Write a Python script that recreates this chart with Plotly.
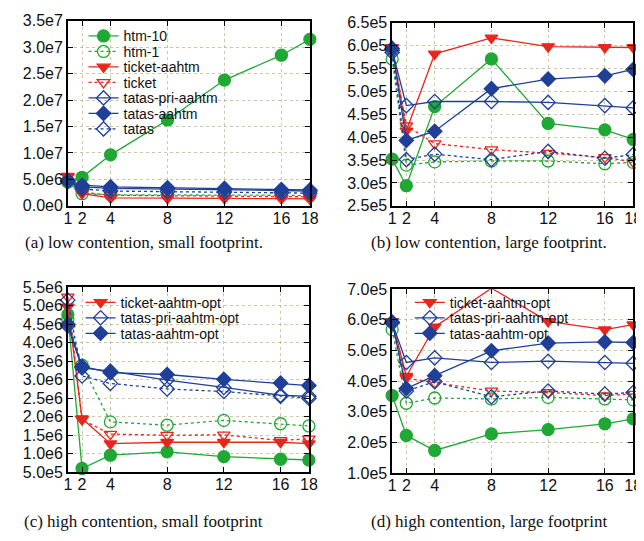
import plotly.graph_objects as go

threads = [1, 2, 4, 8, 12, 16, 18]
x_tick_vals = [1, 2, 4, 8, 12, 16, 18]
x_tick_text = ["1", "2", "4", "8", "12", "16", "18"]

# (a) low contention, small footprint
a_htm10 = [4.76e6, 5.4e6, 9.65e6, 16.25e6, 23.8e6, 28.5e6, 31.5e6]
a_htm1 = [4.5e6, 2.3e6, 2.1e6, 2.1e6, 2.1e6, 2.0e6, 1.9e6]
a_ticket_aahtm = [5.6e6, 2.3e6, 1.5e6, 1.4e6, 1.4e6, 1.35e6, 1.3e6]
a_ticket = [5.5e6, 2.6e6, 2.0e6, 1.9e6, 1.9e6, 1.8e6, 1.7e6]
a_tatas_pri_aahtm = [4.7e6, 3.6e6, 3.3e6, 3.2e6, 3.1e6, 2.9e6, 2.8e6]
a_tatas_aahtm = [4.8e6, 3.9e6, 3.6e6, 3.4e6, 3.3e6, 3.1e6, 3.0e6]
a_tatas = [4.6e6, 3.2e6, 2.8e6, 2.7e6, 2.6e6, 2.5e6, 2.4e6]
a_ytick_vals = [0, 5e6, 1e7, 1.5e7, 2e7, 2.5e7, 3e7, 3.5e7]
a_ytick_text = ["0.0e0", "5.0e6", "1.0e7", "1.5e7", "2.0e7", "2.5e7", "3.0e7", "3.5e7"]

# (b) low contention, large footprint
b_htm10 = [3.52e5, 2.94e5, 4.67e5, 5.71e5, 4.30e5, 4.16e5, 3.95e5]
b_htm1 = [5.71e5, 3.39e5, 3.46e5, 3.48e5, 3.48e5, 3.42e5, 3.45e5]
b_ticket_aahtm = [5.96e5, 4.14e5, 5.82e5, 6.17e5, 5.98e5, 5.96e5, 5.96e5]
b_ticket = [5.95e5, 4.25e5, 3.86e5, 3.73e5, 3.65e5, 3.56e5, 3.46e5]
b_tatas_pri_aahtm = [5.9e5, 4.69e5, 4.78e5, 4.78e5, 4.76e5, 4.69e5, 4.64e5]
b_tatas_aahtm = [5.94e5, 3.93e5, 4.13e5, 5.06e5, 5.27e5, 5.34e5, 5.48e5]
b_tatas = [5.85e5, 3.51e5, 3.63e5, 3.51e5, 3.69e5, 3.54e5, 3.62e5]
b_ytick_vals = [2.5e5, 3e5, 3.5e5, 4e5, 4.5e5, 5e5, 5.5e5, 6e5, 6.5e5]
b_ytick_text = ["2.5e5", "3.0e5", "3.5e5", "4.0e5", "4.5e5", "5.0e5", "5.5e5", "6.0e5", "6.5e5"]

# (c) high contention, small footprint
c_htm10 = [4.76e6, 0.6e6, 0.96e6, 1.05e6, 0.92e6, 0.85e6, 0.83e6]
c_htm1 = [4.63e6, 3.39e6, 1.86e6, 1.77e6, 1.90e6, 1.81e6, 1.75e6]
c_ticket_aahtm_opt = [4.97e6, 1.95e6, 1.27e6, 1.31e6, 1.31e6, 1.31e6, 1.27e6]
c_ticket = [5.24e6, 1.92e6, 1.53e6, 1.50e6, 1.51e6, 1.36e6, 1.40e6]
c_tatas_pri_aahtm_opt = [4.45e6, 3.32e6, 3.23e6, 2.99e6, 2.79e6, 2.58e6, 2.55e6]
c_tatas_aahtm_opt = [4.5e6, 3.36e6, 3.19e6, 3.14e6, 3.01e6, 2.91e6, 2.84e6]
c_tatas = [5.15e6, 3.1e6, 2.9e6, 2.75e6, 2.68e6, 2.55e6, 2.5e6]
c_ytick_vals = [5e5, 1e6, 1.5e6, 2e6, 2.5e6, 3e6, 3.5e6, 4e6, 4.5e6, 5e6, 5.5e6]
c_ytick_text = ["5.0e5", "1.0e6", "1.5e6", "2.0e6", "2.5e6", "3.0e6", "3.5e6", "4.0e6", "4.5e6", "5.0e6", "5.5e6"]

# (d) high contention, large footprint
d_htm10 = [3.53e5, 2.23e5, 1.74e5, 2.28e5, 2.42e5, 2.61e5, 2.77e5]
d_htm1 = [5.68e5, 3.28e5, 3.45e5, 3.42e5, 3.47e5, 3.42e5, 3.39e5]
d_ticket_aahtm_opt = [5.95e5, 4.16e5, 5.77e5, 7.03e5, 5.95e5, 5.68e5, 5.84e5]
d_ticket = [5.95e5, 4.1e5, 3.95e5, 3.68e5, 3.63e5, 3.53e5, 3.58e5]
d_tatas_pri_aahtm_opt = [5.9e5, 4.61e5, 4.76e5, 4.61e5, 4.65e5, 4.61e5, 4.58e5]
d_tatas_aahtm_opt = [5.93e5, 3.76e5, 4.18e5, 4.99e5, 5.24e5, 5.28e5, 5.26e5]
d_tatas = [5.9e5, 3.68e5, 3.98e5, 3.49e5, 3.68e5, 3.58e5, 3.63e5]
d_ytick_vals = [1e5, 2e5, 3e5, 4e5, 5e5, 6e5, 7e5]
d_ytick_text = ["1.0e5", "2.0e5", "3.0e5", "4.0e5", "5.0e5", "6.0e5", "7.0e5"]

captions = [
    "(a) low contention, small footprint.",
    "(b) low contention, large footprint.",
    "(c) high contention, small footprint",
    "(d) high contention, large footprint",
]

GREEN = "#1fa834"
RED = "#e8261c"
BLUE = "#1f3f98"
W, H = 644, 541
SANS = "Liberation Sans, Arial, sans-serif"
SERIF = "Liberation Serif, Times New Roman, serif"

STYLES = {
    "htm-10": dict(color=GREEN, dash="solid", symbol="circle", size=12),
    "htm-1": dict(color=GREEN, dash="dot", symbol="circle-open", size=12),
    "ticket-aahtm": dict(color=RED, dash="solid", symbol="triangle-down", size=11),
    "ticket": dict(color=RED, dash="dot", symbol="triangle-down-open", size=11),
    "tatas-pri-aahtm": dict(color=BLUE, dash="solid", symbol="diamond-open", size=11),
    "tatas-aahtm": dict(color=BLUE, dash="solid", symbol="diamond", size=11),
    "tatas": dict(color=BLUE, dash="dot", symbol="diamond-open", size=11),
}

fig = go.Figure()


def px_x(p):
    return p / W


def px_y(p):
    return 1 - p / H


panels = [
    dict(xa="x", ya="y", xd=(57, 304), yd=(5, 196), rng=(0, 3.5e7), tv=a_ytick_vals, tt=a_ytick_text),
    dict(xa="x2", ya="y2", xd=(388, 634), yd=(7, 196), rng=(2.5e5, 6.5e5), tv=b_ytick_vals, tt=b_ytick_text),
    dict(xa="x3", ya="y3", xd=(57, 303), yd=(280, 471), rng=(5e5, 5.5e6), tv=c_ytick_vals, tt=c_ytick_text),
    dict(xa="x4", ya="y4", xd=(388, 634), yd=(282, 472), rng=(1e5, 7e5), tv=d_ytick_vals, tt=d_ytick_text),
]

panel_series = [
    [("htm-10", "htm-10", a_htm10), ("htm-1", "htm-1", a_htm1),
     ("ticket-aahtm", "ticket-aahtm", a_ticket_aahtm), ("ticket", "ticket", a_ticket),
     ("tatas-pri-aahtm", "tatas-pri-aahtm", a_tatas_pri_aahtm),
     ("tatas-aahtm", "tatas-aahtm", a_tatas_aahtm), ("tatas", "tatas", a_tatas)],
    [("htm-10", "htm-10", b_htm10), ("htm-1", "htm-1", b_htm1),
     ("ticket-aahtm", "ticket-aahtm", b_ticket_aahtm), ("ticket", "ticket", b_ticket),
     ("tatas-pri-aahtm", "tatas-pri-aahtm", b_tatas_pri_aahtm),
     ("tatas-aahtm", "tatas-aahtm", b_tatas_aahtm), ("tatas", "tatas", b_tatas)],
    [("htm-10", "htm-10", c_htm10), ("htm-1", "htm-1", c_htm1),
     ("ticket-aahtm", "ticket-aahtm-opt", c_ticket_aahtm_opt), ("ticket", "ticket", c_ticket),
     ("tatas-pri-aahtm", "tatas-pri-aahtm-opt", c_tatas_pri_aahtm_opt),
     ("tatas-aahtm", "tatas-aahtm-opt", c_tatas_aahtm_opt), ("tatas", "tatas", c_tatas)],
    [("htm-10", "htm-10", d_htm10), ("htm-1", "htm-1", d_htm1),
     ("ticket-aahtm", "ticket-aahtm-opt", d_ticket_aahtm_opt), ("ticket", "ticket", d_ticket),
     ("tatas-pri-aahtm", "tatas-pri-aahtm-opt", d_tatas_pri_aahtm_opt),
     ("tatas-aahtm", "tatas-aahtm-opt", d_tatas_aahtm_opt), ("tatas", "tatas", d_tatas)],
]

LEG_FONT = 14
legend_rows_a = [21, 37, 53, 69, 85, 101, 117]
legend_place = {}
for i, (kind, name, _) in enumerate(panel_series[0]):
    legend_place[(0, name)] = ("legend" if i == 0 else f"legend{i+1}", 73, legend_rows_a[i])
opt_rows = [296, 312, 328]
opt_names = ["ticket-aahtm-opt", "tatas-pri-aahtm-opt", "tatas-aahtm-opt"]
for j, nm in enumerate(opt_names):
    legend_place[(2, nm)] = (f"legend{8+j}", 70, opt_rows[j])
    legend_place[(3, nm)] = (f"legend{11+j}", 406, opt_rows[j])

legend_layouts = {}
for pi, series in enumerate(panel_series):
    p = panels[pi]
    for kind, name, vals in series:
        st = STYLES[kind]
        lp = legend_place.get((pi, name))
        tr = dict(
            x=threads, y=vals, name=name, mode="lines+markers",
            xaxis=p["xa"], yaxis=p["ya"], cliponaxis=False,
            line=dict(color=st["color"], width=1.3, dash=st["dash"]),
            marker=dict(symbol=st["symbol"], size=st["size"], color=st["color"],
                        line=dict(color=st["color"], width=1.3)),
            showlegend=lp is not None,
        )
        if lp is not None:
            tr["legend"] = lp[0]
            legend_layouts[lp[0]] = dict(
                x=px_x(lp[1]), y=px_y(lp[2]), xanchor="left", yanchor="middle",
                bgcolor="rgba(0,0,0,0)", borderwidth=0,
                font=dict(family=SANS, size=LEG_FONT, color="#111"),
                itemwidth=30, tracegroupgap=0,
            )
        fig.add_trace(go.Scatter(**tr))

layout = dict(
    width=W, height=H, margin=dict(l=0, r=0, t=0, b=0),
    paper_bgcolor="white", plot_bgcolor="white",
    font=dict(family=SANS, size=15, color="#111"),
    annotations=[],
)
GRID = "rgba(165,165,110,0.6)"
for i, p in enumerate(panels):
    sx = "" if i == 0 else str(i + 1)
    common = dict(
        ticks="inside", ticklen=5, tickcolor="black", showline=True, linecolor="black",
        linewidth=1.5, mirror="ticks", showgrid=True, gridcolor=GRID, griddash="dot",
        gridwidth=1, zeroline=False, tickfont=dict(family=SANS, size=16, color="#111"),
    )
    layout["xaxis" + sx] = dict(
        domain=[px_x(p["xd"][0]), px_x(p["xd"][1])], anchor=p["ya"], range=[1, 18],
        tickvals=x_tick_vals, ticktext=x_tick_text, ticklabelstandoff=-3, **common,
    )
    layout["yaxis" + sx] = dict(
        domain=[px_y(p["yd"][1]), px_y(p["yd"][0])], anchor=p["xa"], range=list(p["rng"]),
        tickvals=p["tv"], ticktext=p["tt"], **common,
    )

cap_pos = [(135, 234), (487, 234), (134, 522), (487, 522)]
for txt, (cx, cy) in zip(captions, cap_pos):
    layout["annotations"].append(dict(
        text=txt, x=px_x(cx), y=px_y(cy), xref="paper", yref="paper",
        xanchor="center", yanchor="middle", showarrow=False,
        font=dict(family=SERIF, size=17, color="#111"),
    ))

layout.update(legend_layouts)
fig.update_layout(**layout)
fig.write_html("out.html")
